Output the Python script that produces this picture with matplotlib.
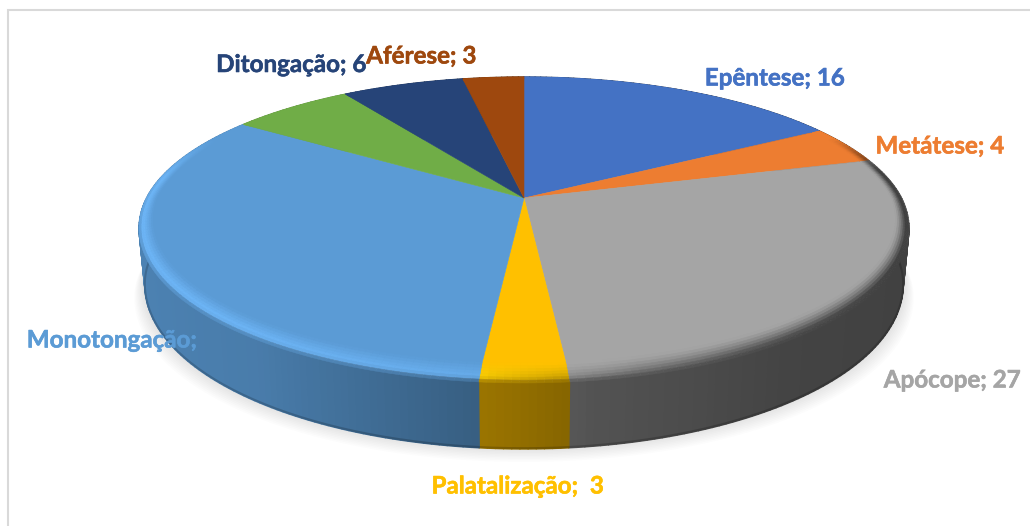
import numpy as np
import matplotlib
matplotlib.use("Agg")
import matplotlib.pyplot as plt
import matplotlib.transforms as mtransforms
import matplotlib.patheffects as pe
from matplotlib.collections import PolyCollection
from matplotlib.colors import to_rgb

# ---- data ----
categories = ["Epêntese", "Metátese", "Apócope", "Palatalização",
              "Monotongação", "(sem rótulo)", "Ditongação", "Aférese"]
values = [16, 4, 27, 3, 32, 6, 6, 3]
colors = ["#4472C4", "#ED7D31", "#A5A5A5", "#FFC000",
          "#5B9BD5", "#70AD47", "#264478", "#9E480E"]
label_texts = ["Epêntese; 16", "Metátese; 4", "Apócope; 27", "Palatalização;  3",
               "Monotongação;", "", "Ditongação; 6", "Aférese; 3"]
label_xy = [(774.5, 78), (939.5, 146), (952, 380), (517.5, 486),
            (111.5, 340), (0, 0), (291, 64.5), (421, 56)]

# ---- projection of the unit disc to the picture ----
CX, CY, RX, RY, K = 524.0, 198.0, 377.5, 144.7, 0.196


def project(x, y):
    w = 1 + K * y
    return CX + RX * x / w, CY - RY * y / w


class Persp(mtransforms.Transform):
    input_dims = 2
    output_dims = 2
    is_separable = False
    has_inverse = False

    def transform_non_affine(self, values):
        v = np.asarray(values, float)
        X, Y = project(v[:, 0], v[:, 1])
        return np.column_stack([X, Y])


def ring(th, level):
    """level: 0 inner edge of bevel, 1 rim, 2 bottom of the wall"""
    x, y = np.sin(th), np.cos(th)
    front = np.clip(-y, 0, 1)
    if level == 0:
        r = 1 - 0.068 * front - 0.027 * (1 - front)
        return project(r * x, r * y)
    X, Y = project(x, y)
    if level == 1:
        return X, Y + 5 * front
    d = 57 + 14 * np.clip((-y - 0.2) / 0.8, 0, 1)
    return CX + (X - CX) * 0.985, Y + d


def wall_factor(xn):
    return np.interp(xn, [-1, -0.6, 0, 0.15, 0.6, 1], [0.84, 0.80, 0.57, 0.50, 0.41, 0.39])


fig = plt.figure(figsize=(10.30, 5.26), dpi=100, facecolor="white")
ax = fig.add_axes([0, 0, 1, 1])
wedges, _ = ax.pie(values, colors=colors, startangle=90, counterclock=False,
                   radius=1, wedgeprops=dict(linewidth=0.4, zorder=5))
persp = Persp() + ax.transData
for w, c in zip(wedges, colors):
    w.set_transform(persp)
    w.set_edgecolor(c)
ax.set_aspect("auto")
ax.set_xlim(0, 1030)
ax.set_ylim(526, 0)
ax.axis("off")

# ---- chart area border ----
ax.plot([8, 8, 1030], [526, 10, 10], color="#D9D9D9", lw=1.5, zorder=1,
        solid_capstyle="butt", solid_joinstyle="miter")

# ---- soft shadow ----
th_all = np.linspace(0, 2 * np.pi, 361)
Xb, Yb = ring(th_all, 2)
for s in np.arange(15, 0, -1.5):
    ax.fill(CX + (Xb - CX) * (1 + 0.7 * s / 375), Yb + s - 2, color="black",
            alpha=0.012, lw=0, zorder=2)

# ---- wall and bevel of each slice ----
edges = np.cumsum([0] + values) / np.sum(values) * 2 * np.pi
wall_polys, wall_cols = [], []
bevel_polys, bevel_cols = [], []
for a, b, c in zip(edges[:-1], edges[1:], colors):
    base = np.array(to_rgb(c))
    n = max(4, int((b - a) / np.radians(1.0)))
    th = np.linspace(a, b, n + 1)
    X0, Y0 = ring(th, 0)
    X1, Y1 = ring(th, 1)
    X2, Y2 = ring(th, 2)
    for i in range(n):
        tm = 0.5 * (th[i] + th[i + 1])
        xn, yn = np.sin(tm), np.cos(tm)
        wc = np.clip(base * wall_factor(xn), 0, 1)
        wall_polys.append([(X1[i], Y1[i]), (X1[i + 1], Y1[i + 1]),
                           (X2[i + 1], Y2[i + 1]), (X2[i], Y2[i])])
        wall_cols.append(wc)
        # bevel band, blended in steps from top colour to wall colour
        steps = 7
        for j in range(steps):
            t0, t1 = j / steps, (j + 1) / steps
            tc = (t0 + t1) / 2
            P = lambda A, B, k, t: A[k] + (B[k] - A[k]) * t
            poly = [(P(X0, X1, i, t0), P(Y0, Y1, i, t0)),
                    (P(X0, X1, i + 1, t0), P(Y0, Y1, i + 1, t0)),
                    (P(X0, X1, i + 1, t1), P(Y0, Y1, i + 1, t1)),
                    (P(X0, X1, i, t1), P(Y0, Y1, i, t1))]
            light = np.clip(-xn + 0.25, 0, 1) ** 0.5 * np.clip((0.45 - yn) / 0.3, 0, 1)
            darkside = np.clip(xn + 0.1, 0, 1) ** 0.5
            hi = np.clip(base * 1.14 + 0.03, 0, 1)
            # left: top -> highlight -> wall; right: top -> wall
            dark_amt = darkside * np.clip((0.45 - yn) / 0.25, 0, 1)
            if tc < 0.75:
                m = base + (hi - base) * (tc / 0.75) * light
                col = m + (wc - m) * dark_amt * (tc / 0.75) ** 1.5
            else:
                m = base + (hi - base) * light
                m2 = m + (wc - m) * dark_amt
                col = m2 + (wc - m2) * ((tc - 0.75) / 0.25) * np.clip(-yn + 0.4, 0, 1)
            bevel_polys.append(poly)
            bevel_cols.append(np.clip(col, 0, 1))

ax.add_collection(PolyCollection(wall_polys, facecolors=wall_cols, edgecolors=wall_cols,
                                 linewidths=1.0, zorder=3))
ax.add_collection(PolyCollection(bevel_polys, facecolors=bevel_cols, edgecolors=bevel_cols,
                                 linewidths=0.4, zorder=6))
front = np.linspace(np.pi / 2, 3 * np.pi / 2, 181)
Xf, Yf = ring(front, 2)
ax.plot(Xf, Yf - 0.8, color="black", alpha=0.18, lw=1.5, zorder=4)

# ---- labels ----
for txt, (lx, ly), c in zip(label_texts, label_xy, colors):
    if txt:
        t = ax.text(lx, ly, txt, color=c, fontsize=17.4, fontweight="bold", family="Lato",
                    ha="center", va="center", zorder=10)
        t.set_path_effects([pe.withStroke(linewidth=0.4, foreground=c)])

fig.savefig("out.png", dpi=100, facecolor="white")
